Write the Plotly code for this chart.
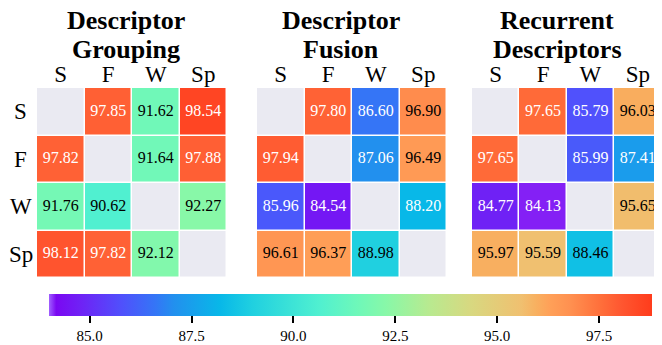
import numpy as np
import plotly.graph_objects as go

# page body has an 8px margin: the figure is drawn from (8, 8) of the window
OFF = 8
W, H = 662 - OFF, 345 - OFF
cats = ["S", "F", "W", "Sp"]
titles = [["Descriptor", "Grouping"], ["Descriptor", "Fusion"], ["Recurrent", "Descriptors"]]
nan = None
grouping = [[nan, 97.85, 91.62, 98.54],
            [97.82, nan, 91.64, 97.88],
            [91.76, 90.62, nan, 92.27],
            [98.12, 97.82, 92.12, nan]]
fusion = [[nan, 97.80, 86.60, 96.90],
          [97.94, nan, 87.06, 96.49],
          [85.96, 84.54, nan, 88.20],
          [96.61, 96.37, 88.98, nan]]
recurrent = [[nan, 97.65, 85.79, 96.03],
             [97.65, nan, 85.99, 87.41],
             [84.77, 84.13, nan, 95.65],
             [95.97, 95.59, 88.46, nan]]
panels = [grouping, fusion, recurrent]
cb_ticks = [85.0, 87.5, 90.0, 92.5, 95.0, 97.5]

ZMIN, ZMAX = 84.0, 98.8
cscale = [
    [0.0, "#a060ff"], [0.012, "#7a08f2"], [0.05, "#7020f5"], [0.12, "#5050fc"],
    [0.177, "#3476f6"], [0.207, "#2290ee"], [0.284, "#08b8e8"], [0.337, "#20d0e0"],
    [0.448, "#50f0d0"], [0.515, "#70f8b8"], [0.559, "#88f8a8"], [0.63, "#b8ea90"],
    [0.70, "#d8d880"], [0.783, "#f0c070"], [0.808, "#f8b060"], [0.831, "#ffa058"],
    [0.865, "#ff9050"], [0.916, "#ff6e3a"], [0.95, "#ff5630"], [0.984, "#ff4422"],
    [1.0, "#ff3c1c"],
]
FONT = "Liberation Serif"

def px_x(p):
    return (p - OFF) / W

def px_y(p):
    return 1 - (p - OFF) / H

xdomains = [(37, 227), (257, 447), (472, 661.5)]
ytop, ybot = 88, 278
title_cx = [126, 341, 557]

fig = go.Figure()
annotations = []
for i, (data, (x0, x1)) in enumerate(zip(panels, xdomains)):
    xa = "x" if i == 0 else f"x{i+1}"
    ya = "y" if i == 0 else f"y{i+1}"
    z = np.array([[np.nan if v is None else v for v in row] for row in data], dtype=float)
    diag = np.where(np.isnan(z), 1.0, np.nan)
    fig.add_trace(go.Heatmap(z=diag, x=cats, y=cats, xaxis=xa, yaxis=ya,
                             colorscale=[[0, "#eaeaf2"], [1, "#eaeaf2"]], showscale=False,
                             xgap=1.5, ygap=1.5, hoverinfo="skip"))
    fig.add_trace(go.Heatmap(z=z, x=cats, y=cats, xaxis=xa, yaxis=ya,
                             colorscale=cscale, zmin=ZMIN, zmax=ZMAX,
                             xgap=1.5, ygap=1.5, showscale=(i == 0),
                             colorbar=dict(orientation="h", x=px_x((49 + 652) / 2), xanchor="center",
                                           y=px_y(294), yanchor="top", len=(652 - 49) / W,
                                           lenmode="fraction", thickness=22, xpad=0, ypad=0,
                                           outlinewidth=0, tickvals=cb_ticks, tickformat=".1f",
                                           ticks="outside", ticklen=7, tickwidth=1.5, tickcolor="black",
                                           tickfont=dict(family=FONT, size=15, color="black"))))
    xs, ys, ts, cs = [], [], [], []
    for r in range(4):
        for c in range(4):
            v = data[r][c]
            if v is None:
                continue
            xs.append(cats[c]); ys.append(cats[r]); ts.append(f"{v:.2f}")
            cs.append("white" if (v < 88.3 or v > 97.5) else "black")
    fig.add_trace(go.Scatter(x=xs, y=ys, text=ts, mode="text", xaxis=xa, yaxis=ya,
                             textfont=dict(family=FONT, size=16, color=cs),
                             showlegend=False, hoverinfo="skip"))
    sfx = "" if i == 0 else str(i + 1)
    fig.layout["xaxis" + sfx] = dict(domain=[px_x(x0), px_x(x1)], anchor=ya, side="top",
                                     showgrid=False, zeroline=False, showline=False, ticks="",
                                     tickfont=dict(family=FONT, size=23, color="black"),
                                     ticklabelstandoff=0, fixedrange=True)
    fig.layout["yaxis" + sfx] = dict(domain=[px_y(ybot), px_y(ytop)], anchor=xa,
                                     autorange="reversed", showgrid=False, zeroline=False,
                                     showticklabels=False, ticks="", fixedrange=True)
    for k, line in enumerate(titles[i]):
        annotations.append(dict(text=f"<b>{line}</b>", x=px_x(title_cx[i]), y=px_y(20 + 30 * k),
                                xref="paper", yref="paper", showarrow=False, xanchor="center",
                                yanchor="middle", font=dict(family=FONT, size=26, color="black")))

for cat in cats:
    annotations.append(dict(text=cat, x=px_x(20.5), y=cat, xref="paper", yref="y", showarrow=False,
                            xanchor="center", yanchor="middle",
                            font=dict(family=FONT, size=23, color="black")))

fig.update_layout(width=W, height=H, margin=dict(l=0, r=0, t=0, b=0),
                  paper_bgcolor="white", plot_bgcolor="white",
                  annotations=annotations, showlegend=False)
fig.write_html("out.html")
